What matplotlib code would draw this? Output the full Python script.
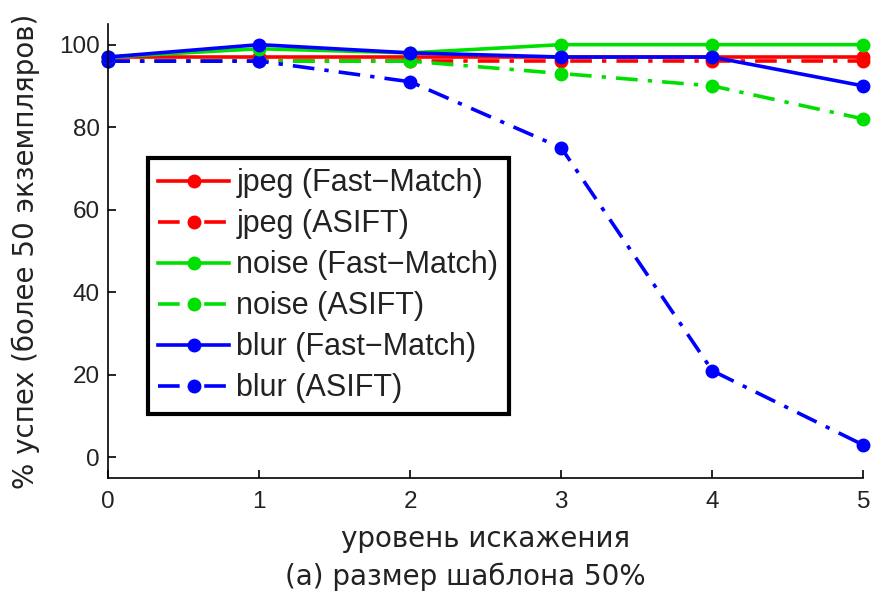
import matplotlib
matplotlib.use("Agg")
import matplotlib.pyplot as plt

levels = [0, 1, 2, 3, 4, 5]
jpeg_fm = [97, 97, 97, 97, 97, 97]
jpeg_asift = [96, 96, 96, 96, 96, 96]
noise_fm = [97, 99, 98, 100, 100, 100]
noise_asift = [96, 96, 96, 93, 90, 82]
blur_fm = [97, 100, 98, 97, 97, 90]
blur_asift = [96, 96, 91, 75, 21, 3]

labels = ["jpeg (Fast\u2212Match)", "jpeg (ASIFT)",
          "noise (Fast\u2212Match)", "noise (ASIFT)",
          "blur (Fast\u2212Match)", "blur (ASIFT)"]
series = [jpeg_fm, jpeg_asift, noise_fm, noise_asift, blur_fm, blur_asift]
colors = ["#ff0000", "#ff0000", "#00e000", "#00e000", "#0000ff", "#0000ff"]
styles = ["solid", "dashdot", "solid", "dashdot", "solid", "dashdot"]

tick_font = "Liberation Sans"

fig = plt.figure(figsize=(8.74, 5.93), dpi=100)
ax = fig.add_axes([108.3 / 874, 1 - 478 / 593, (863.3 - 108.3) / 874, (478 - 24) / 593])

draw_order = [0, 1, 3, 5, 2, 4]
handles = [None] * 6
for i in draw_order:
    kw = dict(color=colors[i], lw=2.6, marker="o", ms=9, label=labels[i], clip_on=False)
    if styles[i] == "dashdot":
        kw["dashes"] = (6, 2.8, 1.2, 2.8)
    else:
        kw["linestyle"] = "-"
    (h,) = ax.plot(levels, series[i], **kw)
    handles[i] = h

ax.set_xlim(0, 5)
ax.set_ylim(-5, 105)
ax.set_xticks(levels)
ax.set_yticks([0, 20, 40, 60, 80, 100])
for s in ["top", "right"]:
    ax.spines[s].set_visible(False)
for s in ["left", "bottom"]:
    ax.spines[s].set_linewidth(1.2)
ax.tick_params(direction="in", length=6, width=1.2, labelsize=17.5, pad=6)
ax.tick_params(axis="x", pad=9)
for lab in ax.get_xticklabels() + ax.get_yticklabels():
    lab.set_fontfamily(tick_font)
    lab.set_color("#222222")

ax.set_xlabel("уровень искажения", fontsize=20, fontfamily="DejaVu Sans", labelpad=9, color="#222222")
ax.set_ylabel("% успех (более 50 экземпляров)", fontsize=20, fontfamily="DejaVu Sans", labelpad=14, color="#222222")
fig.text(0.5 * (283 + 647) / 874, 1 - 577 / 593, "(a) размер шаблона 50%", fontsize=20,
         fontfamily="DejaVu Sans", ha="center", va="center", color="#222222")

leg = ax.legend(handles=handles, loc="upper left",
                bbox_to_anchor=(148 / 874, 1 - 158 / 593), bbox_transform=fig.transFigure,
                prop={"family": tick_font, "size": 22}, fancybox=False, framealpha=1,
                edgecolor="black", handlelength=2.3, handletextpad=0.25, labelspacing=0.36,
                borderpad=0.34, borderaxespad=0)
leg.get_frame().set_linewidth(3)
for t in leg.get_texts():
    t.set_color("#222222")

fig.savefig("out.png", dpi=100)
